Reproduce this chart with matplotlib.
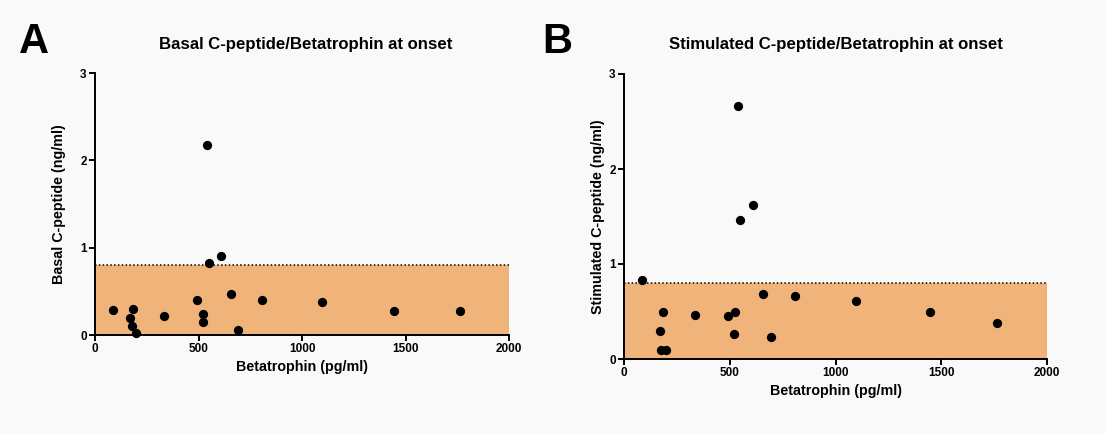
import matplotlib
matplotlib.use("Agg")
import matplotlib.pyplot as plt

plt.rcParams['font.family'] = ['Liberation Sans', 'DejaVu Sans']
plt.rcParams['font.weight'] = 'bold'

# Betatrophin concentrations (pg/ml), one per patient
betatrophin = [85, 183, 169, 177, 198, 335, 492, 523, 520, 539, 550, 608,
               655, 693, 808, 1097, 1445, 1763]
# Basal C-peptide (ng/ml)
basal_cpep = [0.29, 0.30, 0.20, 0.10, 0.02, 0.22, 0.40, 0.24, 0.15, 2.17,
              0.83, 0.91, 0.47, 0.06, 0.40, 0.38, 0.28, 0.28]
# Stimulated C-peptide (ng/ml)
stim_cpep = [0.83, 0.50, 0.30, 0.10, 0.09, 0.46, 0.45, 0.50, 0.26, 2.66,
             1.46, 1.62, 0.68, 0.23, 0.66, 0.61, 0.49, 0.38]

cutoff = 0.8
x_ticks = [0, 500, 1000, 1500, 2000]
y_ticks = [0, 1, 2, 3]

panels = [
    dict(letter='A', title='Basal C-peptide/Betatrophin at onset',
         ylabel='Basal C-peptide (ng/ml)', y=basal_cpep,
         rect=[95 / 1105, 1 - 335 / 434, 414 / 1105, 262 / 434],
         letter_x=34, title_x=306, ylabelpad=10),
    dict(letter='B', title='Stimulated C-peptide/Betatrophin at onset',
         ylabel='Stimulated C-peptide (ng/ml)', y=stim_cpep,
         rect=[624 / 1105, 1 - 359 / 434, 423 / 1105, 285 / 434],
         letter_x=557, title_x=836, ylabelpad=3),
]

bg = '#f9f9f9'
fig = plt.figure(figsize=(11.05, 4.34), dpi=100, facecolor=bg)

for p in panels:
    ax = fig.add_axes(p['rect'])
    ax.set_facecolor(bg)
    ax.set_xlim(0, 2000)
    ax.set_ylim(0, 3)
    ax.fill_between([0, 2000], 0, cutoff, color='#f0b47b', lw=0, zorder=1)
    ax.plot([0, 2000], [cutoff, cutoff], color='black', ls=(0, (1, 1.5)),
            lw=1.1, zorder=2)
    ax.scatter(betatrophin, p['y'], s=32, color='black', zorder=3,
               clip_on=False)
    for s in ('top', 'right'):
        ax.spines[s].set_visible(False)
    for s in ('left', 'bottom'):
        ax.spines[s].set_linewidth(1.4)
    ax.set_xticks(x_ticks)
    ax.set_yticks(y_ticks)
    ax.tick_params(direction='out', length=4, width=1.4, labelsize=8.5,
                   pad=2)
    for lab in ax.get_xticklabels() + ax.get_yticklabels():
        lab.set_fontweight('bold')
    ax.set_xlabel('Betatrophin (pg/ml)', fontsize=10.3, fontweight='bold',
                  labelpad=3)
    ax.set_ylabel(p['ylabel'], fontsize=10.3, fontweight='bold',
                  labelpad=p['ylabelpad'])
    fig.text(p['letter_x'] / 1105, 1 - 42 / 434, p['letter'], fontsize=30,
             fontweight='bold', ha='center', va='center')
    fig.text(p['title_x'] / 1105, 1 - 45 / 434, p['title'], fontsize=12.1,
             fontweight='bold', ha='center', va='center')

fig.savefig('out.png', dpi=100, facecolor=bg)
